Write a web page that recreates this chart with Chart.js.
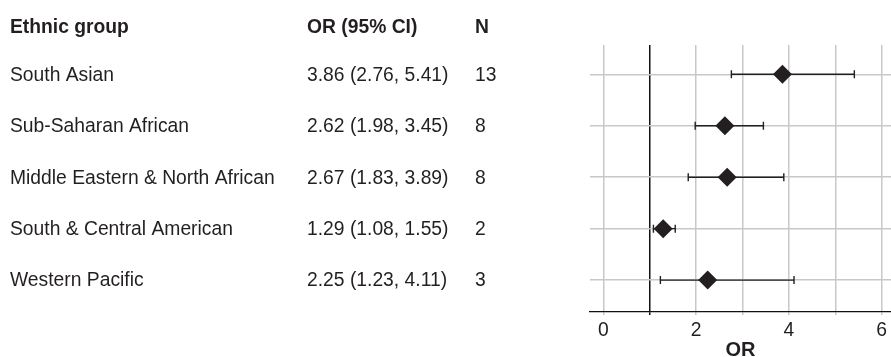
<!DOCTYPE html>
<html>
<head>
<meta charset="utf-8">
<script src="https://cdn.jsdelivr.net/npm/chart.js@4/dist/chart.umd.min.js"></script>
<style>
  html, body { margin: 0; padding: 0; background: #fff; }
  #wrap { width: 891px; height: 357px; }
</style>
</head>
<body>
<div id="wrap"><canvas id="forest" width="891" height="357"></canvas></div>
<script>
// Odds ratios by ethnic group
const groups = ['South Asian', 'Sub-Saharan African', 'Middle Eastern & North African', 'South & Central American', 'Western Pacific'];
const oddsRatio = [3.86, 2.62, 2.67, 1.29, 2.25];
const ciLower = [2.76, 1.98, 1.83, 1.08, 1.23];
const ciUpper = [5.41, 3.45, 3.89, 1.55, 4.11];
const studies = [13, 8, 8, 2, 3];
const headers = ['Ethnic group', 'OR (95% CI)', 'N'];
const xTickLabels = [0, 2, 4, 6];

const TEXT = '#231f20';
const FONT = '"Liberation Sans", Arial, Helvetica, sans-serif';
const SIZE = 19.3;

const fmt = v => v.toFixed(2);

// Confidence interval whiskers, drawn underneath the diamonds
const whiskers = {
  id: 'whiskers',
  beforeDatasetsDraw(chart) {
    const { ctx, scales: { x, y } } = chart;
    ctx.save();
    ctx.strokeStyle = TEXT;
    ctx.lineWidth = 1.4;
    groups.forEach((g, i) => {
      const py = y.getPixelForValue(i + 1);
      const x0 = x.getPixelForValue(ciLower[i]);
      const x1 = x.getPixelForValue(ciUpper[i]);
      ctx.beginPath();
      ctx.moveTo(x0, py); ctx.lineTo(x1, py);
      ctx.moveTo(x0, py - 4); ctx.lineTo(x0, py + 4);
      ctx.moveTo(x1, py - 4); ctx.lineTo(x1, py + 4);
      ctx.stroke();
    });
    ctx.restore();
  }
};

// Text columns to the left of the plot
const table = {
  id: 'table',
  afterDraw(chart) {
    const { ctx, scales: { y } } = chart;
    const cols = [10, 307, 475];
    ctx.save();
    ctx.fillStyle = TEXT;
    ctx.textBaseline = 'middle';
    ctx.textAlign = 'left';
    ctx.font = `bold ${SIZE}px ${FONT}`;
    headers.forEach((h, c) => ctx.fillText(h, cols[c], 27.5));
    ctx.font = `${SIZE}px ${FONT}`;
    groups.forEach((g, i) => {
      const py = y.getPixelForValue(i + 1) + 1;
      ctx.fillText(g, cols[0], py);
      ctx.fillText(`${fmt(oddsRatio[i])} (${fmt(ciLower[i])}, ${fmt(ciUpper[i])})`, cols[1], py);
      ctx.fillText(String(studies[i]), cols[2], py);
    });
    ctx.restore();
  }
};

new Chart(document.getElementById('forest'), {
  type: 'scatter',
  data: {
    datasets: [{
      data: oddsRatio.map((v, i) => ({ x: v, y: i + 1 })),
      pointStyle: 'rectRot',
      pointRadius: 9.5,
      pointHoverRadius: 9.5,
      backgroundColor: TEXT,
      borderColor: TEXT,
      borderWidth: 0
    }]
  },
  options: {
    responsive: false,
    animation: false,
    events: [],
    layout: { autoPadding: false, padding: { left: 590, top: 45, right: 0, bottom: 0 } },
    plugins: { legend: { display: false }, tooltip: { enabled: false } },
    scales: {
      x: {
        type: 'linear',
        min: -0.287,
        max: 6.2,
        ticks: {
          stepSize: 1,
          includeBounds: false,
          autoSkip: false,
          maxRotation: 0,
          padding: 6,
          color: TEXT,
          font: { family: FONT, size: SIZE, lineHeight: 1 },
          callback: v => xTickLabels.includes(v) ? String(v) : ''
        },
        grid: {
          color: c => (c.tick && c.tick.value === 1) ? '#111' : '#c8c8c8',
          lineWidth: 1.5,
          tickLength: 3,
          drawTicks: true
        },
        border: { display: true, color: '#111', width: 1.2 },
        title: {
          display: true,
          text: 'OR',
          color: TEXT,
          font: { family: FONT, size: 20, weight: 'bold', lineHeight: 0.7 },
          padding: { top: 3, bottom: 0 }
        },
        afterFit(scale) {
          scale.paddingLeft = 0;
          scale.paddingRight = 0;
          scale.height = 45;
        }
      },
      y: {
        type: 'linear',
        reverse: true,
        min: 0.43,
        max: 5.62,
        ticks: { display: false, stepSize: 1, includeBounds: false },
        grid: { color: '#c8c8c8', lineWidth: 1.5, drawTicks: false },
        border: { display: false },
        afterFit(scale) { scale.width = 0; }
      }
    }
  },
  plugins: [whiskers, table]
});
</script>
</body>
</html>
